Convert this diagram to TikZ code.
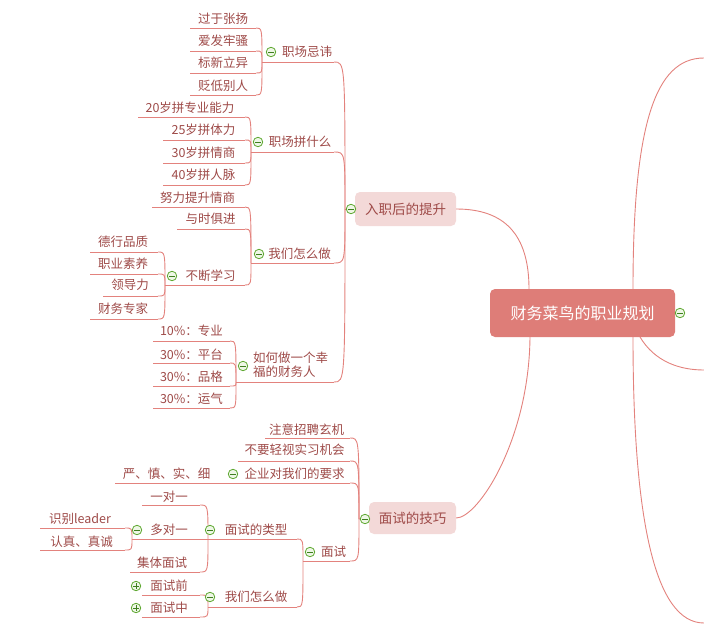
\documentclass[tikz,border=0pt]{standalone}
\usepackage{fontspec}
\newfontfamily\cjk{Noto Sans CJK SC}
\usetikzlibrary{calc}
\definecolor{lnc}{HTML}{E3827D}
\definecolor{txc}{HTML}{9E4A48}
\definecolor{boxc}{HTML}{F3D9D8}
\definecolor{rootc}{HTML}{DE7D78}
\definecolor{grc}{HTML}{5FA832}
\definecolor{grd}{HTML}{3F7F1F}
\definecolor{grf}{HTML}{EEF7E6}
\tikzset{
  ln/.style={draw=lnc, line width=0.9pt},
  tx/.style={inner sep=0pt, text=txc, font=\cjk\fontsize{12.5}{14}\selectfont},
  lvbox/.style={rounded corners=5pt, fill=boxc, inner sep=0pt, text=txc, font=\cjk\fontsize{13.5}{16}\selectfont},
  rootbox/.style={rounded corners=5pt, fill=rootc, inner sep=0pt, text=white, font=\cjk\fontsize{16}{18}\selectfont},
  tog/.style={circle, draw=grc, fill=grf, line width=0.8pt, minimum size=9.5pt, inner sep=0pt},
  togminus/.style={tog, path picture={\draw[grd, line width=1pt] ($(path picture bounding box.center)+(-2.6,0)$) -- ++(5.2,0);}},
  togplus/.style={tog, path picture={\draw[grd, line width=1pt] ($(path picture bounding box.center)+(-2.6,0)$) -- ++(5.2,0); \draw[grd, line width=1pt] ($(path picture bounding box.center)+(0,-2.6)$) -- ++(0,5.2);}},
}
\newcommand\mmtopic[7]{%
  \node[tx] (#1) at (#2,#3) {#7};
  \coordinate (#1L) at (#5,#4);
  \coordinate (#1R) at (#6,#4);
  \draw[ln] (#1L) -- (#1R);}
\newcommand\mmlink[2]{\draw[ln] (#1R) .. controls (#1R -| #2L) .. (#2L);}
\begin{document}
\begin{tikzpicture}[x=1pt, y=-1pt]
\useasboundingbox (0,0) rectangle (704,632);
% root and main branches
\node[rootbox, minimum width=185pt, minimum height=48pt] (root) at (582.5,313) {财务菜鸟的职业规划};
\node[lvbox, minimum width=101pt, minimum height=34pt] (top1) at (405.5,209) {入职后的提升};
\node[lvbox, minimum width=87pt, minimum height=32pt] (top2) at (412.5,518) {面试的技巧};
\coordinate (top1L) at (345,209);
\coordinate (top2L) at (359,519);
\draw[ln] (top1L) -- (top1.west);
\draw[ln] (top2L) -- (top2.west);
\coordinate (rootTL) at (529,289);
\coordinate (rootBL) at (530,337);
\coordinate (rootTR) at (633,289);
\coordinate (rootBR) at (633,337);
\coordinate (rootBM) at (640,337);
\coordinate (offT) at (704,58);
\coordinate (offM) at (704,370);
\coordinate (offB) at (704,623);
\draw[ln] (top1.east) .. controls (505,209) and (529,235) .. (rootTL);
\draw[ln] (top2.east) .. controls (478,518) and (529,440) .. (rootBL);
\draw[ln] (rootTR) .. controls (633,125) and (655,58) .. (offT);
\draw[ln] (rootBR) .. controls (633,520) and (655,623) .. (offB);
\draw[ln] (rootBM) .. controls (655,362) and (680,370) .. (offM);
% branch 1
\mmtopic{a1}{223}{19}{28}{190}{256}{过于张扬}
\mmtopic{a2}{223}{41}{51}{190}{256}{爱发牢骚}
\mmtopic{a3}{223}{63}{73}{190}{256}{标新立异}
\mmtopic{a4}{223}{86}{95}{190}{256}{贬低别人}
\mmtopic{A}{307}{52}{62}{262}{334}{职场忌讳}
\mmtopic{b1}{190}{108}{117}{138}{245}{20岁拼专业能力}
\mmtopic{b2}{203.5}{130}{140}{163}{245}{25岁拼体力}
\mmtopic{b3}{203.5}{153}{163}{163}{245}{30岁拼情商}
\mmtopic{b4}{203.5}{175}{185}{163}{245}{40岁拼人脉}
\mmtopic{B}{300}{142}{152}{251}{334}{职场拼什么}
\mmtopic{c1}{197.5}{198}{207}{152}{245}{努力提升情商}
\mmtopic{c2}{210.5}{219}{229}{177}{245}{与时俱进}
\mmtopic{c3}{210.5}{276}{285}{165}{245}{不断学习}
\mmtopic{c3a}{123}{242}{252}{90}{158}{德行品质}
\mmtopic{c3b}{123}{264}{274}{90}{158}{职业素养}
\mmtopic{c3c}{130}{285}{296}{103}{158}{领导力}
\mmtopic{c3d}{123}{309}{319}{90}{158}{财务专家}
\mmtopic{C}{299.5}{254}{263}{251}{334}{我们怎么做}
\mmtopic{d1}{191.5}{331}{341}{153}{230}{10\%：专业}
\mmtopic{d2}{191.5}{355}{363}{153}{230}{30\%：平台}
\mmtopic{d3}{191.5}{377}{386}{153}{230}{30\%：品格}
\mmtopic{d4}{191.5}{399}{408}{153}{230}{30\%：运气}
\node[tx, anchor=west, align=left] (D) at (253,365) {如何做一个幸\\福的财务人};
\coordinate (DL) at (236,382);
\coordinate (DR) at (334,382);
\draw[ln] (DL) -- (DR);
\foreach \c in {a1,a2,a3,a4} {\mmlink{\c}{A}}
\foreach \c in {b1,b2,b3,b4} {\mmlink{\c}{B}}
\foreach \c in {c1,c2,c3} {\mmlink{\c}{C}}
\foreach \c in {c3a,c3b,c3c,c3d} {\mmlink{\c}{c3}}
\foreach \c in {d1,d2,d3,d4} {\mmlink{\c}{D}}
\foreach \c in {A,B,C,D} {\mmlink{\c}{top1}}
% branch 2
\mmtopic{e1}{306.5}{430}{438}{265}{350}{注意招聘玄机}
\mmtopic{e2}{294.5}{450}{461}{238}{350}{不要轻视实习机会}
\mmtopic{e3}{294.5}{474}{483}{228}{350}{企业对我们的要求}
\mmtopic{e3a}{166.5}{474}{483}{115}{228}{严、慎、实、细}
\mmtopic{E}{333.5}{552}{561}{303}{350}{面试}
\mmtopic{F}{256}{530}{539}{208}{297}{面试的类型}
\mmtopic{f1}{169}{497}{505}{142}{200}{一对一}
\mmtopic{f2}{169}{530}{539}{132}{208}{多对一}
\mmtopic{f2a}{80}{519}{528}{40}{125}{识别leader}
\mmtopic{f2b}{81.5}{542}{550}{40}{125}{认真、真诚}
\mmtopic{f3}{162}{563}{572}{130}{200}{集体面试}
\mmtopic{G}{256}{597}{607}{208}{297}{我们怎么做}
\mmtopic{g1}{169}{586}{595}{142}{200}{面试前}
\mmtopic{g2}{169}{608}{617}{142}{200}{面试中}
\foreach \c in {e1,e2,e3,E} {\mmlink{\c}{top2}}
\foreach \c in {F,G} {\mmlink{\c}{E}}
\foreach \c in {f1,f3} {\mmlink{\c}{F}}
\foreach \c in {f2a,f2b} {\mmlink{\c}{f2}}
\foreach \c in {g1,g2} {\mmlink{\c}{G}}
% toggles
\node[togminus] (tgA) at (271,52) {};
\node[togminus] (tgB) at (258,142) {};
\node[togminus] (tgC) at (259,254) {};
\node[togminus] (tgc3) at (172,276) {};
\node[togminus] (tgD) at (243,366) {};
\node[togminus] (tgT1) at (351,209) {};
\node[togminus] (tgT2) at (365,519) {};
\node[togminus] (tge3) at (233,474) {};
\node[togminus] (tgE) at (310,552) {};
\node[togminus] (tgF) at (210,530) {};
\node[togminus] (tgf2) at (137,530) {};
\node[togminus] (tgG) at (210,597) {};
\node[togminus] (tgR) at (680,313) {};
\node[togplus] (tgg1) at (136,586) {};
\node[togplus] (tgg2) at (136,608) {};
\end{tikzpicture}
\end{document}
